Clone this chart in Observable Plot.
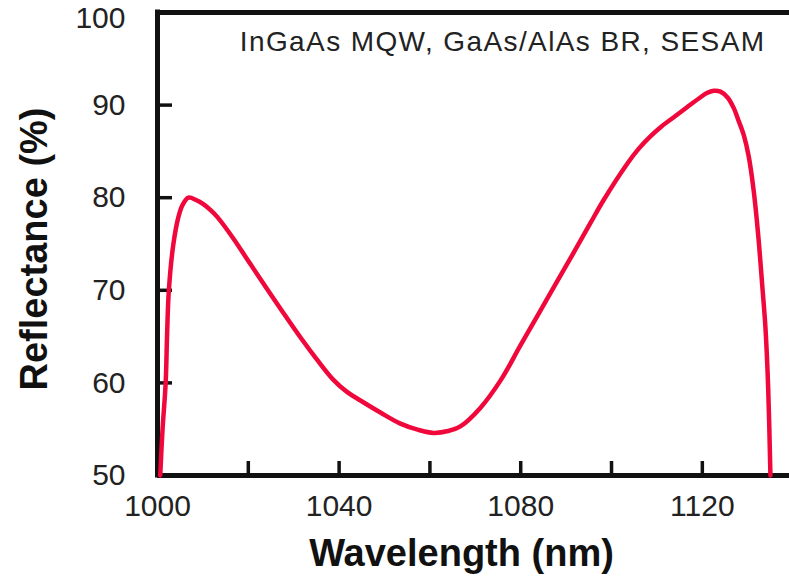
<!DOCTYPE html>
<html>
<head>
<meta charset="utf-8">
<script src="https://cdn.jsdelivr.net/npm/d3@7"></script>
<script src="https://cdn.jsdelivr.net/npm/@observablehq/plot@0.6"></script>
<style>
  html, body { margin: 0; padding: 0; background: #fff; }
  #chart svg { display: block; }
</style>
</head>
<body>
<div id="chart"></div>
<script>
// Wavelength (nm) and reflectance (%)
const wavelength = [1000.6, 1001.1, 1001.8, 1002.1, 1002.5, 1003.5, 1004.6, 1005.5, 1006.8, 1008.5,
  1010.1, 1011.7, 1013.2, 1016.7, 1020.5, 1027.8, 1031.5, 1035.0, 1038.8, 1041.8,
  1044.7, 1049.1, 1053.5, 1057.3, 1060.8, 1064.0, 1066.7, 1071.1, 1075.6, 1080.0,
  1085.5, 1091.0, 1095.4, 1098.2, 1103.5, 1106.0, 1108.5, 1111.0, 1114.0, 1116.7,
  1119.6, 1121.0, 1122.5, 1124.0, 1125.6, 1126.9, 1128.0, 1129.1, 1130.2, 1131.3,
  1132.3, 1133.2, 1133.9, 1134.5, 1135.0];
const reflectance = [50.0, 54.9, 60.0, 65.0, 70.0, 75.0, 77.9, 79.2, 80.0, 79.75,
  79.3, 78.65, 77.9, 75.6, 72.8, 67.5, 64.9, 62.6, 60.3, 59.0,
  58.1, 56.8, 55.6, 54.95, 54.6, 54.8, 55.3, 57.3, 60.3, 64.1,
  68.8, 73.5, 77.3, 79.7, 83.7, 85.3, 86.6, 87.7, 88.8, 89.8,
  90.85, 91.3, 91.55, 91.45, 90.8, 89.7, 88.3, 86.8, 84.5, 80.8,
  76.0, 70.5, 66.0, 59.5, 50.0];

const xTickLabels = [1000, 1040, 1080, 1120];
const xTicks = [1020, 1040, 1060, 1080, 1100, 1120];
const yTickLabels = [50, 60, 70, 80, 90];
const yTopLabel = [100];
const yTicks = [60, 70, 80, 90];
const annotation = "InGaAs MQW, GaAs/AlAs BR, SESAM";
const xTitle = "Wavelength (nm)";
const yTitle = "Reflectance (%)";

const data = wavelength.map((w, i) => ({w, r: reflectance[i]}));

const W = 789, H = 577;
const mL = 157, mR = 0, mT = 12, mB = 102;
const xDomain = [1000, 1139.2];
const yDomain = [50, 100];
const pxPerX = (W - mL - mR) / (xDomain[1] - xDomain[0]);
const pxPerY = (H - mT - mB) / (yDomain[1] - yDomain[0]);
const tickLenX = 14 / pxPerY; // x-axis ticks, pointing up
const tickLenY = 15 / pxPerX; // y-axis ticks, pointing right

const font = "'Liberation Sans', Arial, Helvetica, sans-serif";
const ink = "#111";

const chart = Plot.plot({
  width: W,
  height: H,
  marginLeft: mL,
  marginRight: mR,
  marginTop: mT,
  marginBottom: mB,
  style: {fontFamily: font, background: "#fff", color: ink},
  x: {domain: xDomain},
  y: {domain: yDomain},
  marks: [
    Plot.axisX(xTickLabels, {tickSize: 0, tickPadding: 19, fontSize: 30, label: null, fill: "#222", tickFormat: d => String(d)}),
    Plot.axisY(yTickLabels, {tickSize: 0, tickPadding: 32, fontSize: 30, label: null, fill: "#222", tickFormat: d => String(d)}),
    Plot.axisY(yTopLabel, {tickSize: 0, tickPadding: 32, dy: 6, fontSize: 30, label: null, fill: "#222", tickFormat: d => String(d)}),
    Plot.ruleX(xTicks, {x: d => d, y1: yDomain[0], y2: yDomain[0] + tickLenX, stroke: ink, strokeWidth: 3.5}),
    Plot.ruleY(yTicks, {y: d => d, x1: xDomain[0], x2: xDomain[0] + tickLenY, stroke: ink, strokeWidth: 3.5}),
    Plot.ruleY(yDomain, {stroke: ink, strokeWidth: 5}),
    Plot.ruleX([xDomain[0]], {stroke: ink, strokeWidth: 5, strokeLinecap: "square"}),
    Plot.line(data, {x: "w", y: "r", stroke: "#f0083c", strokeWidth: 4.5, curve: "catmull-rom"}),
    Plot.text([annotation], {frameAnchor: "top-right", textAnchor: "end", lineAnchor: "top", dx: -24, dy: 19, fontSize: 28, fill: "#222"}),
    Plot.text([xTitle], {frameAnchor: "bottom", textAnchor: "middle", lineAnchor: "middle", dx: -12, dy: 78, fontSize: 38, fontWeight: "bold", fill: "#111"}),
    Plot.text([yTitle], {frameAnchor: "left", textAnchor: "middle", rotate: -90, lineAnchor: "middle", dx: -123, dy: 5, fontSize: 38, fontWeight: "bold", fill: "#111"})
  ]
});
// the reference annotation is set a little wider than the font's natural spacing
d3.select(chart).selectAll("text")
  .filter(function() { return this.textContent === annotation; })
  .style("letter-spacing", "1.4px");
document.getElementById("chart").appendChild(chart);
</script>
</body>
</html>
